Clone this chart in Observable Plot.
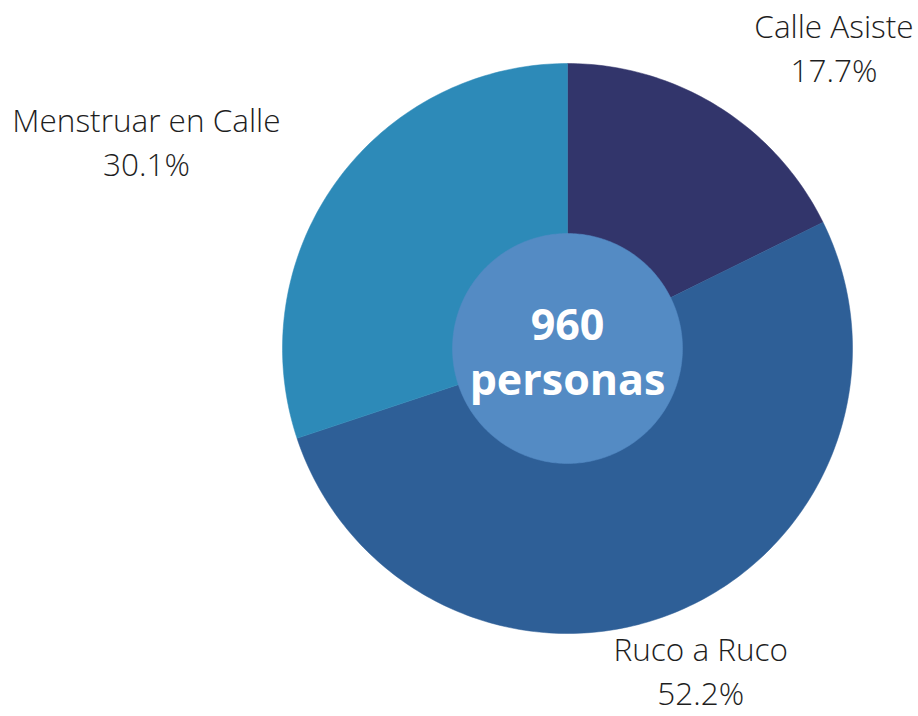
<!DOCTYPE html>
<html>
<head>
<meta charset="utf-8">
<script src="https://cdn.jsdelivr.net/npm/d3@7"></script>
<script src="https://cdn.jsdelivr.net/npm/@observablehq/plot@0.6"></script>
<style>
  html, body { margin: 0; padding: 0; background: #fff; }
  #chart { width: 918px; height: 716px; }
</style>
</head>
<body>
<div id="chart"></div>
<script>
// --- data ---
const categories = ["Calle Asiste", "Ruco a Ruco", "Menstruar en Calle"];
const shares = [17.7, 52.2, 30.1];
const colors = ["#32356b", "#2e5f97", "#2d8ab8"];
const centerLines = ["960", "personas"];

// --- geometry in unit space (angle 0 at top, clockwise) ---
const total = d3.sum(shares);
let acc = 0;
const slices = categories.map((name, i) => {
  const a0 = acc / total * 2 * Math.PI;
  acc += shares[i];
  const a1 = acc / total * 2 * Math.PI;
  return {name, value: shares[i], a0, a1, color: colors[i]};
});
function arcPoints(s) {
  const n = Math.max(8, Math.ceil((s.a1 - s.a0) / (Math.PI / 180)));
  const pts = [{x: 0, y: 0}];
  for (let k = 0; k <= n; k++) {
    const a = s.a0 + (s.a1 - s.a0) * k / n;
    pts.push({x: Math.sin(a), y: Math.cos(a)});
  }
  pts.push({x: 0, y: 0});
  return pts;
}
const innerR = 115 / 285;
const innerPts = d3.range(0, 361).map(d => ({x: innerR * Math.sin(d * Math.PI / 180), y: innerR * Math.cos(d * Math.PI / 180)}));

function mid(s) { const a = (s.a0 + s.a1) / 2; return {x: Math.sin(a), y: Math.cos(a), label: `${s.name}\n${s.value.toFixed(1)}%`}; }
const labelOffsets = [[116, -61], [25, 57], [-190, -42]];

const font = "'Open Sans', 'Noto Sans', sans-serif";
const marks = [
  ...slices.map(s => Plot.line(arcPoints(s), {x: "x", y: "y", fill: s.color, stroke: s.color, strokeWidth: 0.5, curve: "linear"})),
  Plot.line(innerPts, {x: "x", y: "y", fill: "#548bc4", stroke: "#548bc4", strokeWidth: 0.5}),
  ...slices.map((s, i) => Plot.text([mid(s)], {
    x: "x", y: "y", text: "label",
    dx: labelOffsets[i][0], dy: labelOffsets[i][1],
    fontSize: 31.5, fontWeight: 300, fill: "#1e1e1e", lineHeight: 1.4,
    textAnchor: "middle", lineAnchor: "middle"
  })),
  Plot.text([{x: 0, y: 0, t: centerLines.join("\n")}], {
    x: "x", y: "y", text: "t", dy: 1,
    fontSize: 43, fontWeight: 700, fill: "#ffffff", lineHeight: 1.28,
    textAnchor: "middle", lineAnchor: "middle"
  })
];

const chart = Plot.plot({
  width: 918, height: 716,
  marginLeft: 282, marginRight: 66, marginTop: 63, marginBottom: 83,
  x: {domain: [-1, 1], axis: null},
  y: {domain: [-1, 1], axis: null},
  style: {fontFamily: font, background: "#fff", overflow: "visible"},
  marks
});
document.getElementById("chart").appendChild(chart);
</script>
</body>
</html>
